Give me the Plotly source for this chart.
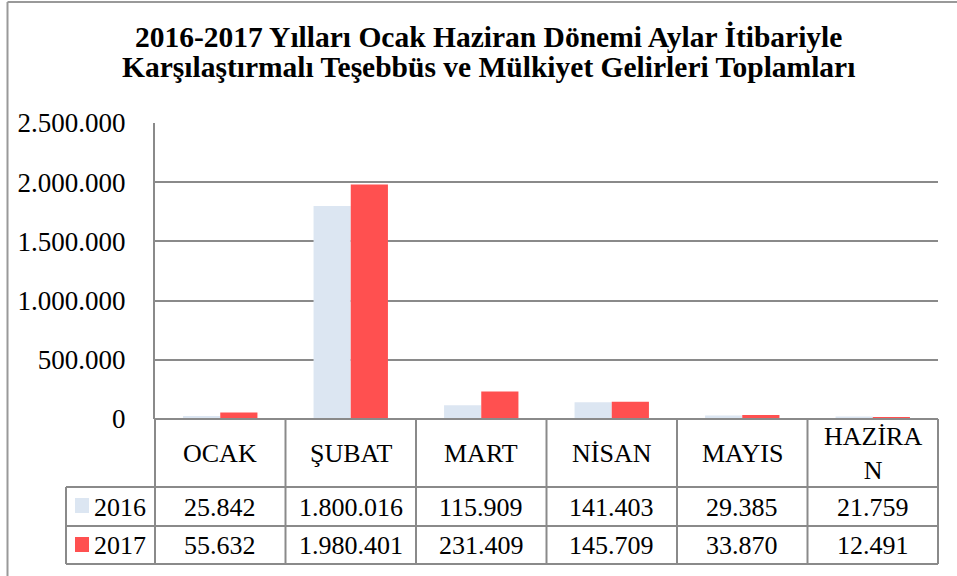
import plotly.graph_objects as go

# ---- data ----
months = ["OCAK", "ŞUBAT", "MART", "NİSAN", "MAYIS", "HAZİRAN"]
month_labels = ["OCAK", "ŞUBAT", "MART", "NİSAN", "MAYIS", "HAZİRA<br>N"]
series_names = ["2016", "2017"]
values_2016 = [25842, 1800016, 115909, 141403, 29385, 21759]
values_2017 = [55632, 1980401, 231409, 145709, 33870, 12491]
y_tick_values = [0, 500000, 1000000, 1500000, 2000000, 2500000]
title_lines = ["2016-2017 Yılları Ocak Haziran Dönemi Aylar İtibariyle",
               "Karşılaştırmalı Teşebbüs ve Mülkiyet Gelirleri Toplamları"]

colors = ["#DCE6F2", "#FF5050"]
grid_col = "#8A8A8A"
FONT = "Liberation Serif, Times New Roman, DejaVu Serif, serif"

W, H = 957, 576
L, R, T, B = 155, 938, 123, 419  # plot area in pixels
pw, ph = R - L, B - T


def px(x):
    return (x - L) / pw


def py(y):
    return (B - y) / ph


def fmt(v):
    return f"{v:,}".replace(",", ".")


fig = go.Figure()
for name, vals, col in zip(series_names, [values_2016, values_2017], colors):
    fig.add_trace(go.Bar(x=months, y=vals, name=name, marker=dict(color=col, line=dict(width=0)),
                         showlegend=False))

n = len(months)
shapes = []
line = dict(color=grid_col, width=2)
# category column boundaries (paper coords derived from category index)
for i in range(n + 1):
    xp = i / n
    shapes.append(dict(type="line", xref="paper", yref="paper", x0=xp, x1=xp,
                       y0=0, y1=py(564), line=line, layer="above"))
# horizontal table lines
shapes.append(dict(type="line", xref="paper", yref="paper", x0=0, x1=1, y0=0, y1=0, line=line))
for yy in [487, 526, 564]:
    shapes.append(dict(type="line", xref="paper", yref="paper", x0=px(66), x1=1,
                       y0=py(yy), y1=py(yy), line=line))
shapes.append(dict(type="line", xref="paper", yref="paper", x0=px(66), x1=px(66),
                   y0=py(487), y1=py(564), line=line))
# legend keys
for (y0, y1), col in zip([(498, 513), (537, 552)], colors):
    shapes.append(dict(type="rect", xref="paper", yref="paper", x0=px(75), x1=px(89),
                       y0=py(y1), y1=py(y0), fillcolor=col, line=dict(width=0)))
# outer frame
shapes.append(dict(type="line", xref="paper", yref="paper", x0=px(7.5), x1=px(7.5),
                   y0=py(2), y1=py(580), line=dict(color="#999999", width=2)))
shapes.append(dict(type="line", xref="paper", yref="paper", x0=px(7.5), x1=px(960),
                   y0=py(2), y1=py(2), line=dict(color="#999999", width=2)))

annotations = []
tf = dict(family=FONT, size=26, color="black")
for i, lab in enumerate(month_labels):
    xc = (i + 0.5) / n
    annotations.append(dict(xref="paper", yref="paper", x=xc, y=py(453), text=lab,
                            showarrow=False, font=tf, xanchor="center", yanchor="middle"))
    annotations.append(dict(xref="paper", yref="paper", x=xc, y=py(507), text=fmt(values_2016[i]),
                            showarrow=False, font=tf, xanchor="center", yanchor="middle"))
    annotations.append(dict(xref="paper", yref="paper", x=xc, y=py(545), text=fmt(values_2017[i]),
                            showarrow=False, font=tf, xanchor="center", yanchor="middle"))
for name, yc in zip(series_names, [507, 545]):
    annotations.append(dict(xref="paper", yref="paper", x=px(92), y=py(yc), text=name,
                            showarrow=False, font=tf, xanchor="left", yanchor="middle"))
for line_txt, yc in zip(title_lines, [37, 67]):
    annotations.append(dict(xref="paper", yref="paper", x=px(488), y=py(yc),
                            text=f"<b>{line_txt}</b>", showarrow=False,
                            font=dict(family=FONT, size=29.5, color="black"),
                            xanchor="center", yanchor="middle"))

fig.update_layout(
    width=W, height=H,
    margin=dict(l=L, r=W - R, t=T, b=H - B, pad=0),
    paper_bgcolor="white", plot_bgcolor="white",
    separators=",.",
    barmode="group", bargap=0.43, bargroupgap=0,
    font=dict(family=FONT, size=26, color="black"),
    shapes=shapes, annotations=annotations,
    xaxis=dict(range=[-0.5, n - 0.5], showticklabels=False, showgrid=False, zeroline=False,
               showline=False, fixedrange=True),
    yaxis=dict(range=[0, 2500000], tickvals=y_tick_values, tickformat=",.0f",
               showgrid=True, gridcolor=grid_col, gridwidth=2, zeroline=False,
               showline=True, linecolor=grid_col, linewidth=2,
               ticks="", ticklabelstandoff=22,
               tickfont=dict(family=FONT, size=27, color="black")),
)

fig.write_html("out.html", config={"displayModeBar": False},
               post_script="document.body.style.margin='0';document.body.style.padding='0';")
